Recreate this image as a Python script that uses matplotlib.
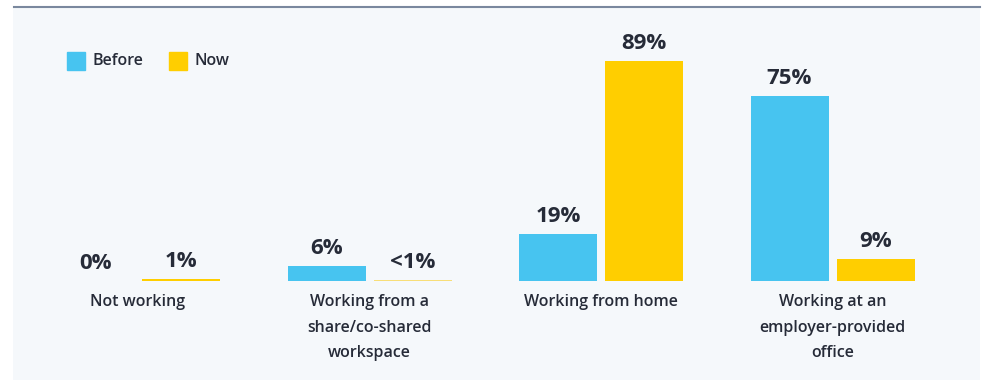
import matplotlib
matplotlib.use("Agg")
import matplotlib.pyplot as plt
from matplotlib.lines import Line2D
from matplotlib.patches import Rectangle
import numpy as np

categories = ["Not working", "Working from a\nshare/co-shared\nworkspace",
              "Working from home", "Working at an\nemployer-provided\noffice"]
before = [0, 6, 19, 75]
now = [1, 0.5, 89, 9]
before_labels = ["0%", "6%", "19%", "75%"]
now_labels = ["1%", "<1%", "89%", "9%"]

BLUE = "#47C4F0"
YELLOW = "#FFCE00"
PALE_YELLOW = "#F8DE78"
TEXT = "#262B38"
PANEL = "#F5F8FB"

plt.rcParams['font.family'] = ['Open Sans', 'DejaVu Sans']

W, H = 982, 383
fig = plt.figure(figsize=(W / 100, H / 100), dpi=100)
fig.patch.set_facecolor("white")

# panel area in pixels
left_px, right_px, top_px, bot_px = 13, 980, 7, 380
ax = fig.add_axes([left_px / W, (H - bot_px) / H,
                   (right_px - left_px) / W, (bot_px - top_px) / H])
ax.set_facecolor(PANEL)
for s in ax.spines.values():
    s.set_visible(False)
ax.set_xticks([])
ax.set_yticks([])

# one group step = 231.5 px, first group centred at x=138 px
step = 231.5
x0 = 138
ax.set_xlim((left_px - x0) / step, (right_px - x0) / step)
base = 281
ppu = 2.47  # pixels per percent
ax.set_ylim((base - bot_px) / ppu, (base - top_px) / ppu)

x = np.arange(len(categories))
bw = 78 / step
off = 43 / step

now_colors = [YELLOW, PALE_YELLOW, YELLOW, YELLOW]
ax.bar(x - off, before, width=bw, color=BLUE)
ax.bar(x + off, now, width=bw, color=now_colors)

for i in range(len(categories)):
    ax.annotate(before_labels[i], (x[i] - off, before[i]), xytext=(0, 5),
                textcoords="offset points", ha="center", va="bottom",
                fontsize=16, fontweight="bold", color=TEXT)
    ax.annotate(now_labels[i], (x[i] + off, now[i]), xytext=(0, 5),
                textcoords="offset points", ha="center", va="bottom",
                fontsize=16, fontweight="bold", color=TEXT)
    ax.text(x[i], (base - 294) / ppu, categories[i], ha="center", va="top",
            fontsize=11.5, fontweight="semibold", color=TEXT, linespacing=1.8)

# legend
for lx, lab, col in [(67, "Before", BLUE), (169, "Now", YELLOW)]:
    fig.patches.append(Rectangle((lx / W, (H - 70) / H), 18 / W, 18 / H,
                                 transform=fig.transFigure, color=col))
    fig.text((lx + 26) / W, (H - 61) / H, lab, ha="left", va="center",
             fontsize=11.5, fontweight="semibold", color=TEXT)

# rule across the top of the panel
fig.add_artist(Line2D([14 / W, 980 / W], [(H - 6.5) / H] * 2,
                      color="#7A889E", lw=1.5))

fig.savefig("out.png", dpi=100, facecolor="white")
